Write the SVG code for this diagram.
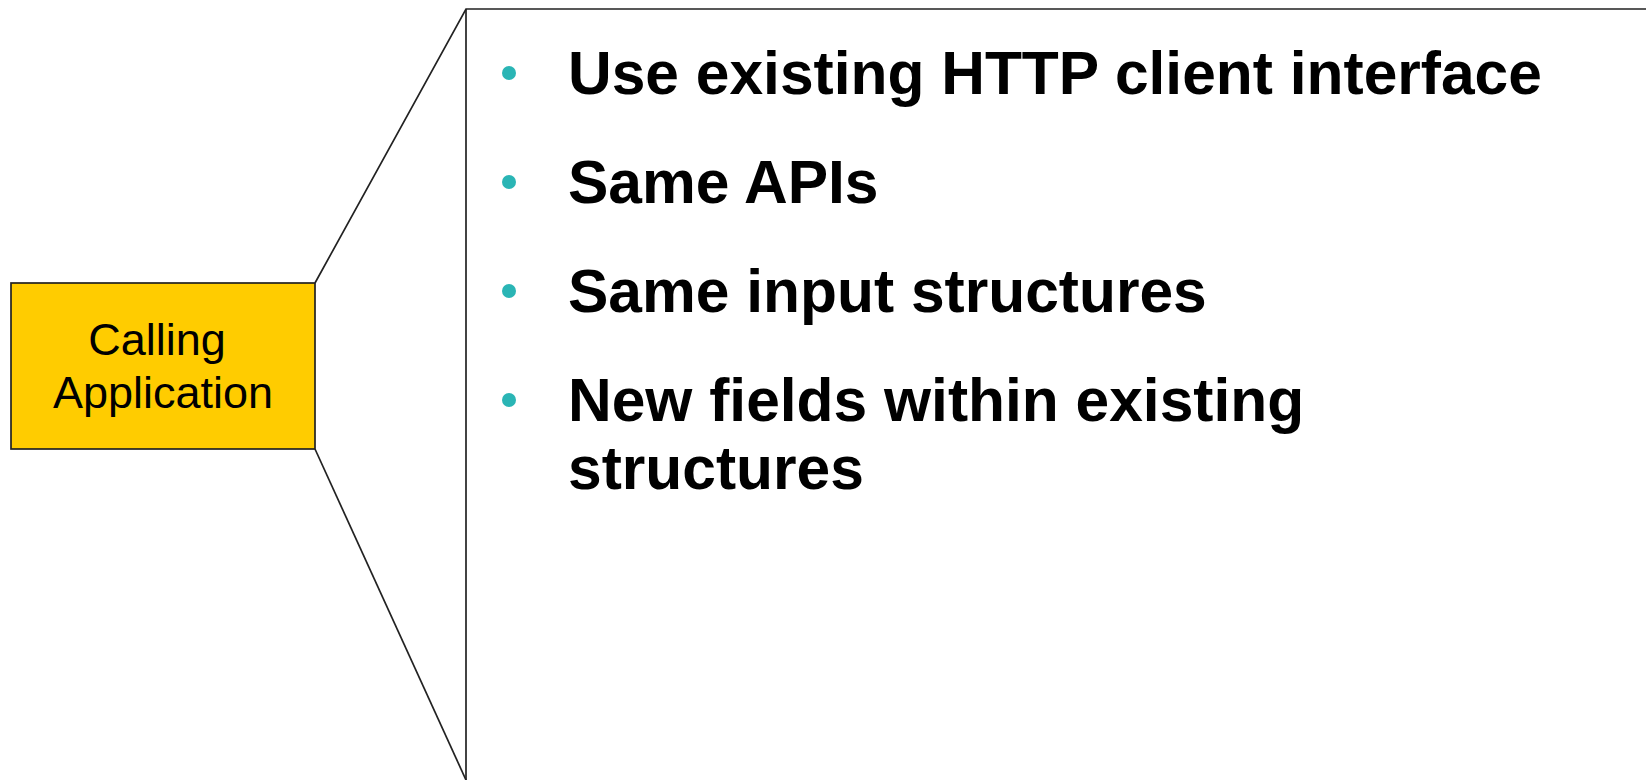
<svg xmlns="http://www.w3.org/2000/svg" width="1646" height="780" viewBox="0 0 1646 780">
<style>
.line{stroke:#222;stroke-width:1.7;fill:none}
.bul{font-family:"Liberation Sans",Arial,sans-serif;font-weight:bold;font-size:60.5px;fill:#000}
.lbl{font-family:"Liberation Sans",Arial,sans-serif;font-size:45px;fill:#000;text-anchor:middle}
.dot{fill:#2ab5b5}
</style>
<rect width="1646" height="780" fill="#fff"/>
<g id="connectors">
<path class="line" d="M315,283 L466,9 L1646,9"/>
<path class="line" d="M466,9 L466,780"/>
<path class="line" d="M315,449 L466,780"/>
</g>
<g id="callout">
<circle class="dot" cx="509" cy="73" r="7"/>
<text class="bul" x="568" y="94">Use existing HTTP client interface</text>
<circle class="dot" cx="509" cy="182" r="7"/>
<text class="bul" x="568" y="203">Same APIs</text>
<circle class="dot" cx="509" cy="291" r="7"/>
<text class="bul" x="568" y="312">Same input structures</text>
<circle class="dot" cx="509" cy="400" r="7"/>
<text class="bul" x="568" y="421">New fields within existing</text>
<text class="bul" x="568" y="489">structures</text>
</g>
<g id="calling-application">
<rect x="11" y="283" width="304" height="166" fill="#ffcc00" stroke="#222" stroke-width="1.7"/>
<text class="lbl" x="157" y="355">Calling</text>
<text class="lbl" x="163" y="408">Application</text>
</g>
</svg>
